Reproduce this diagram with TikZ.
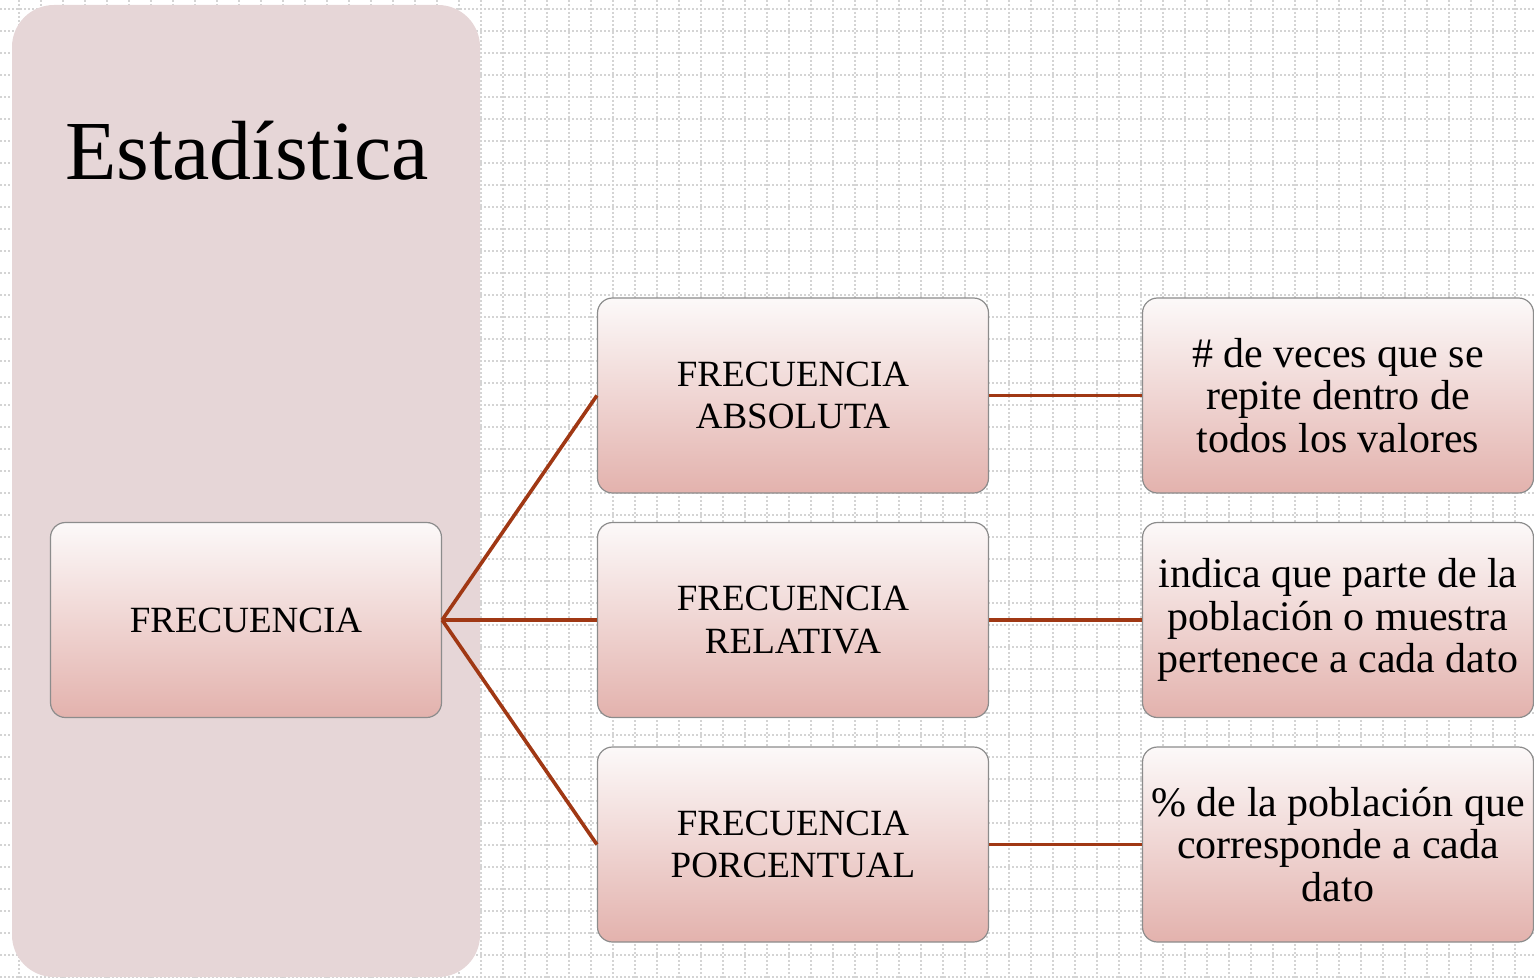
\documentclass[tikz,border=0pt]{standalone}
\usepackage{fontspec}
\setmainfont{Liberation Serif}
\definecolor{panelrose}{RGB}{230,214,215}
\definecolor{boxtop}{RGB}{252,249,249}
\definecolor{boxbottom}{RGB}{227,178,173}
\definecolor{linkrust}{RGB}{160,56,20}
\definecolor{gridgray}{RGB}{212,212,212}

\begin{document}
\begin{tikzpicture}[x=0.5pt, y=-0.5pt,
    caja/.style={draw=black!45, line width=0.6pt, rounded corners=7.5pt,
        top color=boxtop, bottom color=boxbottom,
        minimum width=195.5pt, minimum height=97.5pt, align=center, inner sep=2pt},
    titulo/.style={font=\fontsize{18.5}{21.25}\selectfont},
    texto/.style={font=\fontsize{21}{21.25}\selectfont},
    enlace/.style={draw=linkrust, line width=1.8pt},
    rejilla/.style={draw=gridgray, line width=1pt, dash pattern=on 1pt off 1pt}]
    \useasboundingbox (0,0) rectangle (1534,978);

    % Draw the dotted grid in the background
    \foreach \gx in {19,41,...,1533}
        \draw[rejilla] (\gx,0) -- (\gx,978);
    \foreach \gy in {9,31,...,977}
        \draw[rejilla] (0,\gy) -- (1534,\gy);

    % Draw the side panel and its title
    \node (panel) [fill=panelrose, rounded corners=21pt, inner sep=0pt,
        minimum width=234pt, minimum height=486pt] at (246,491) {};
    \node (estadistica) [anchor=base, font=\fontsize{42}{50}\selectfont] at (247,180) {Estadística};

    % Draw the boxes
    \node (frec) [caja, titulo] at (246,620) {FRECUENCIA};
    \node (absoluta) [caja, titulo] at (793,395.5) {FRECUENCIA\\ABSOLUTA};
    \node (relativa) [caja, titulo] at (793,620) {FRECUENCIA\\RELATIVA};
    \node (porcentual) [caja, titulo] at (793,844.5) {FRECUENCIA\\PORCENTUAL};
    \node (defabs) [caja, texto] at (1338,395.5) {\# de veces que se\\repite dentro de\\todos los valores};
    \node (defrel) [caja, texto] at (1338,620) {indica que parte de la\\población o muestra\\pertenece a cada dato};
    \node (defpor) [caja, texto] at (1338,844.5) {\% de la población que\\corresponde a cada\\dato};

    % Draw the connectors
    \draw[enlace] (frec.east) -- (absoluta.west);
    \draw[enlace] (frec.east) -- (relativa.west);
    \draw[enlace] (frec.east) -- (porcentual.west);
    \draw[enlace] (absoluta.east) -- (defabs.west);
    \draw[enlace] (relativa.east) -- (defrel.west);
    \draw[enlace] (porcentual.east) -- (defpor.west);
\end{tikzpicture}
\end{document}
